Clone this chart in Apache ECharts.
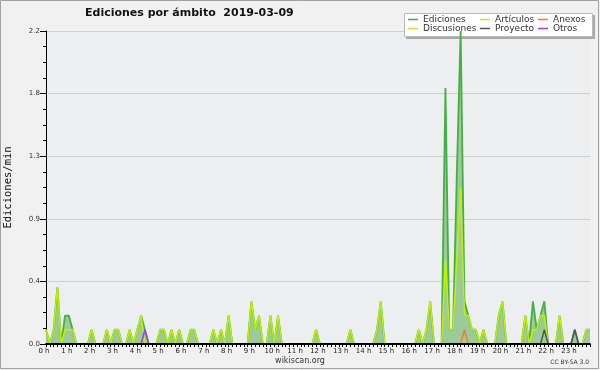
<!DOCTYPE html>
<html>
<head>
<meta charset="utf-8">
<title>Ediciones por ámbito 2019-03-09</title>
<script src="https://cdn.jsdelivr.net/npm/echarts@6/dist/echarts.min.js"></script>
<style>
html, body { margin: 0; padding: 0; background: #f1f1f1; }
#chart { width: 600px; height: 370px; }
</style>
</head>
<body>
<div id="chart"></div>
<script>
// una etiqueta por hora, el eje va en intervalos de 10 min (6 por hora)
var hourLabels = ['0 h', '1 h', '2 h', '3 h', '4 h', '5 h', '6 h', '7 h', '8 h', '9 h', '10 h', '11 h',
    '12 h', '13 h', '14 h', '15 h', '16 h', '17 h', '18 h', '19 h', '20 h', '21 h', '22 h', '23 h'];

// ediciones/min por intervalo de 10 min, 12 valores por fila (2 horas)
var ediciones = [
    0.1, 0, 0.1, 0.4, 0, 0.2, 0.2, 0.1, 0, 0, 0, 0,
    0.1, 0, 0, 0, 0.1, 0, 0.1, 0.1, 0, 0, 0.1, 0,
    0.1, 0.2, 0.1, 0, 0, 0, 0.1, 0.1, 0, 0.1, 0, 0.1,
    0, 0, 0.1, 0.1, 0, 0, 0, 0, 0.1, 0, 0.1, 0,
    0.2, 0, 0, 0, 0, 0, 0.3, 0.1, 0.2, 0, 0, 0.2,
    0, 0.2, 0, 0, 0, 0, 0, 0, 0, 0, 0, 0.1,
    0, 0, 0, 0, 0, 0, 0, 0, 0.1, 0, 0, 0,
    0, 0, 0, 0.1, 0.3, 0, 0, 0, 0, 0, 0, 0,
    0, 0, 0.1, 0, 0.1, 0.3, 0, 0, 0, 1.8, 0.1, 0.1,
    1.2, 2.2, 0.3, 0.2, 0.1, 0.1, 0, 0.1, 0, 0, 0, 0.2,
    0.3, 0, 0, 0, 0, 0, 0.2, 0, 0.3, 0.1, 0.2, 0.3,
    0, 0, 0, 0.2, 0, 0, 0, 0.1, 0, 0, 0.1, 0.1
];
var articulos = [
    0.1, 0, 0.1, 0.4, 0, 0.1, 0.1, 0.1, 0, 0, 0, 0,
    0.1, 0, 0, 0, 0.1, 0, 0.1, 0.1, 0, 0, 0.1, 0,
    0.1, 0.2, 0, 0, 0, 0, 0.1, 0.1, 0, 0.1, 0, 0.1,
    0, 0, 0.1, 0.1, 0, 0, 0, 0, 0.1, 0, 0.1, 0,
    0.2, 0, 0, 0, 0, 0, 0.3, 0.1, 0.2, 0, 0, 0.2,
    0, 0.2, 0, 0, 0, 0, 0, 0, 0, 0, 0, 0.1,
    0, 0, 0, 0, 0, 0, 0, 0, 0.1, 0, 0, 0,
    0, 0, 0, 0.1, 0.3, 0, 0, 0, 0, 0, 0, 0,
    0, 0, 0.1, 0, 0.1, 0.3, 0, 0, 0, 0.6, 0.1, 0.1,
    0.6, 1.1, 0.2, 0.2, 0.1, 0.1, 0, 0.1, 0, 0, 0, 0.2,
    0.3, 0, 0, 0, 0, 0, 0.2, 0, 0.1, 0.1, 0.2, 0.2,
    0, 0, 0, 0.2, 0, 0, 0, 0, 0, 0, 0.1, 0.1
];
var anexos = [
    0, 0, 0, 0, 0, 0, 0, 0, 0, 0, 0, 0,
    0, 0, 0, 0, 0, 0, 0, 0, 0, 0, 0, 0,
    0, 0, 0, 0, 0, 0, 0, 0, 0, 0, 0, 0,
    0, 0, 0, 0, 0, 0, 0, 0, 0, 0, 0, 0,
    0, 0, 0, 0, 0, 0, 0, 0, 0, 0, 0, 0,
    0, 0, 0, 0, 0, 0, 0, 0, 0, 0, 0, 0,
    0, 0, 0, 0, 0, 0, 0, 0, 0, 0, 0, 0,
    0, 0, 0, 0, 0, 0, 0, 0, 0, 0, 0, 0,
    0, 0, 0, 0, 0, 0, 0, 0, 0, 0, 0, 0,
    0, 0, 0.1, 0, 0, 0, 0, 0, 0, 0, 0, 0,
    0, 0, 0, 0, 0, 0, 0, 0, 0, 0, 0, 0,
    0, 0, 0, 0, 0, 0, 0, 0, 0, 0, 0, 0
];
var discusiones = [
    0, 0, 0, 0, 0, 0, 0, 0, 0, 0, 0, 0,
    0, 0, 0, 0, 0, 0, 0, 0, 0, 0, 0, 0,
    0, 0, 0, 0, 0, 0, 0, 0, 0, 0, 0, 0,
    0, 0, 0, 0, 0, 0, 0, 0, 0, 0, 0, 0,
    0, 0, 0, 0, 0, 0, 0, 0, 0, 0, 0, 0,
    0, 0, 0, 0, 0, 0, 0, 0, 0, 0, 0, 0,
    0, 0, 0, 0, 0, 0, 0, 0, 0, 0, 0, 0,
    0, 0, 0, 0, 0, 0, 0, 0, 0, 0, 0, 0,
    0, 0, 0, 0, 0, 0, 0, 0, 0, 0, 0, 0,
    0, 0, 0, 0, 0, 0, 0, 0, 0, 0, 0, 0,
    0, 0, 0, 0, 0, 0, 0, 0, 0, 0, 0, 0,
    0, 0, 0, 0, 0, 0, 0, 0, 0, 0, 0, 0
];
var proyecto = [
    0, 0, 0, 0, 0, 0, 0, 0, 0, 0, 0, 0,
    0, 0, 0, 0, 0, 0, 0, 0, 0, 0, 0, 0,
    0, 0, 0, 0, 0, 0, 0, 0, 0, 0, 0, 0,
    0, 0, 0, 0, 0, 0, 0, 0, 0, 0, 0, 0,
    0, 0, 0, 0, 0, 0, 0, 0, 0, 0, 0, 0,
    0, 0, 0, 0, 0, 0, 0, 0, 0, 0, 0, 0,
    0, 0, 0, 0, 0, 0, 0, 0, 0, 0, 0, 0,
    0, 0, 0, 0, 0, 0, 0, 0, 0, 0, 0, 0,
    0, 0, 0, 0, 0, 0, 0, 0, 0, 0, 0, 0,
    0, 0, 0, 0, 0, 0, 0, 0, 0, 0, 0, 0,
    0, 0, 0, 0, 0, 0, 0, 0, 0, 0, 0, 0.1,
    0, 0, 0, 0, 0, 0, 0, 0.1, 0, 0, 0, 0
];
var otros = [
    0, 0, 0, 0, 0, 0, 0, 0, 0, 0, 0, 0,
    0, 0, 0, 0, 0, 0, 0, 0, 0, 0, 0, 0,
    0, 0, 0.1, 0, 0, 0, 0, 0, 0, 0, 0, 0,
    0, 0, 0, 0, 0, 0, 0, 0, 0, 0, 0, 0,
    0, 0, 0, 0, 0, 0, 0, 0, 0, 0, 0, 0,
    0, 0, 0, 0, 0, 0, 0, 0, 0, 0, 0, 0,
    0, 0, 0, 0, 0, 0, 0, 0, 0, 0, 0, 0,
    0, 0, 0, 0, 0, 0, 0, 0, 0, 0, 0, 0,
    0, 0, 0, 0, 0, 0, 0, 0, 0, 0, 0, 0,
    0, 0, 0, 0, 0, 0, 0, 0, 0, 0, 0, 0,
    0, 0, 0, 0, 0, 0, 0, 0, 0, 0, 0, 0,
    0, 0, 0, 0, 0, 0, 0, 0, 0, 0, 0, 0
];

// categorias del eje: 00:00, 00:10, ... 23:50
var slots = [];
for (var h = 0; h < 24; ++h) {
    for (var m = 0; m < 60; m += 10) {
        slots.push((h < 10 ? '0' + h : h) + ':' + (m < 10 ? '0' + m : m));
    }
}

function legendCol(names, left) {
    return {
        data: names,
        orient: 'vertical',
        left: left,
        top: 15,
        padding: 0,
        itemGap: 0,
        itemWidth: 10,
        itemHeight: 1.5,
        icon: 'rect',
        selectedMode: false,
        textStyle: { fontSize: 9, color: '#333', lineHeight: 9, fontFamily: 'DejaVu Sans' }
    };
}

function lineSerie(name, data, color, width) {
    return {
        name: name,
        type: 'line',
        data: data,
        symbol: 'none',
        lineStyle: { color: color, width: width },
        itemStyle: { color: color }
    };
}

var ed = lineSerie('Ediciones', ediciones, '#44b044', 1.8);
ed.areaStyle = { color: '#9dca9a', opacity: 1 };

var chart = echarts.init(document.getElementById('chart'));
var option = {
    animation: false,
    backgroundColor: '#f1f1f1',
    textStyle: { fontFamily: 'DejaVu Sans' },
    title: {
        text: 'Ediciones por ámbito  2019-03-09',
        left: 85,
        top: 8,
        padding: 0,
        textStyle: { fontSize: 11, fontWeight: 'bold', color: '#111', fontFamily: 'DejaVu Sans' }
    },
    grid: {
        left: 46, right: 10, top: 31, bottom: 26,
        outerBoundsMode: 'none',
        containLabel: false,
        show: true, backgroundColor: '#edeef0', borderWidth: 0
    },
    legend: [
        legendCol(['Ediciones', 'Discusiones'], 408),
        legendCol(['Artículos', 'Proyecto'], 480),
        legendCol(['Anexos', 'Otros'], 538)
    ],
    xAxis: {
        type: 'category',
        data: slots,
        boundaryGap: false,
        z: 5,
        axisLine: { lineStyle: { color: '#000', width: 2 } },
        axisTick: { interval: 0, length: 3, lineStyle: { color: '#000' } },
        axisLabel: {
            interval: 5, margin: 4, fontSize: 7, color: '#222',
            padding: [0, 4, 0, 0],
            formatter: function (v, i) { return hourLabels[Math.floor(i / 6)]; }
        },
        splitLine: { show: false }
    },
    yAxis: {
        type: 'value',
        min: 0,
        max: 2.2,
        interval: 0.44,
        name: 'Ediciones/min',
        nameLocation: 'middle',
        nameGap: 32,
        nameTextStyle: { fontFamily: 'DejaVu Sans Mono', fontSize: 10.5, color: '#111' },
        axisLine: { show: true, lineStyle: { color: '#000', width: 1 } },
        axisTick: { show: true, length: 6, lineStyle: { color: '#000' } },
        minorTick: { show: true, splitNumber: 4, length: 3, lineStyle: { color: '#000' } },
        axisLabel: {
            fontSize: 7, color: '#333', margin: 6,
            formatter: function (v) { return v.toFixed(1); }
        },
        splitLine: { lineStyle: { color: '#cfcfcf' } }
    },
    graphic: [
        { type: 'rect', silent: true, z: 0, shape: { x: 0.5, y: 0.5, width: 598, height: 368 },
          style: { fill: 'none', stroke: '#a0a0a0', lineWidth: 1 } },
        { type: 'rect', silent: true, z: 3, shape: { x: 406, y: 15, width: 189, height: 24 },
          style: { fill: '#aaaaaa' } },
        { type: 'rect', silent: true, z: 3, shape: { x: 404.5, y: 13.5, width: 188, height: 23 },
          style: { fill: '#ffffff', stroke: '#bbbbbb', lineWidth: 1 } },
        { type: 'text', silent: true, x: 300, y: 361,
          style: { text: 'wikiscan.org', fontSize: 8, fontFamily: 'DejaVu Sans', fill: '#333', align: 'center', verticalAlign: 'middle' } },
        { type: 'text', silent: true, x: 589, y: 362,
          style: { text: 'CC BY-SA 3.0', fontSize: 6, fontFamily: 'DejaVu Sans', fill: '#333', align: 'right', verticalAlign: 'middle' } }
    ],
    series: [
        ed,
        lineSerie('Discusiones', discusiones, '#ffcc33', 1.5),
        lineSerie('Artículos', articulos, '#c2f000', 1.5),
        lineSerie('Anexos', anexos, '#ff7733', 1.5),
        lineSerie('Proyecto', proyecto, '#555555', 1.5),
        lineSerie('Otros', otros, '#9d3dff', 1.5)
    ]
};
chart.setOption(option);
</script>
</body>
</html>
